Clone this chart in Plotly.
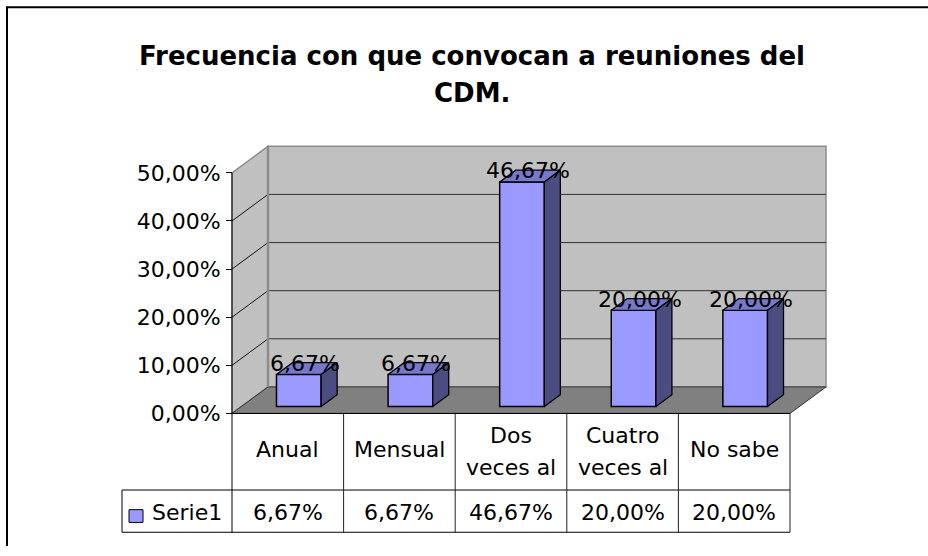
import plotly.graph_objects as go

# ---------------- data ----------------
categories = ["Anual", "Mensual", "Dos veces al", "Cuatro veces al", "No sabe"]
values = [0.0667, 0.0667, 0.4667, 0.2000, 0.2000]
series_name = "Serie1"
y_tick_values = [0.0, 0.1, 0.2, 0.3, 0.4, 0.5]
title_lines = ["Frecuencia con que convocan a reuniones del", "CDM."]

# ---------------- geometry / style ----------------
W, H = 928, 556
FONT = "DejaVu Sans"
X0, Y0 = 232.0, 421.0          # front-left-bottom corner of the plot (px)
CAT_PX = 111.6                 # px per category
VAL_PX = 490.0                 # px per 100 %
WALL_DX, WALL_DY = 36.0, 27.0  # depth of floor / walls (px)
BAR_DX, BAR_DY = 11.0, 7.0     # position of bar front face inside the floor
BAR_DEPTH_DX, BAR_DEPTH_DY = 16.0, 12.0
BAR_WIDTH = 0.40
PAD = 3.0
ROW_SEP_Y, TABLE_BOTTOM_Y, LEGEND_LEFT_X = 499.0, 542.0, 122.0
TITLE_Y = [57.0, 95.0]
FRONT_COL, TOP_COL, SIDE_COL = "#9999FF", "#7777CC", "#4C4C80"
WALL_COL, FLOOR_COL, EDGE_COL = "#C0C0C0", "#808080", "#8C8C8C"

n = len(categories)
ymax = max(y_tick_values)
xl, xr = -0.5, n - 0.5
DXu, DYu = WALL_DX / CAT_PX, WALL_DY / VAL_PX

x_range = [xl - PAD / CAT_PX, xr + DXu + PAD / CAT_PX]
y_range = [-PAD / VAL_PX, ymax + DYu + PAD / VAL_PX]


def xpx(x):
    return X0 + (x - xl) * CAT_PX


def ypx(y):
    return Y0 - y * VAL_PX


def fx(p):
    return p / W


def fy(p):
    return 1 - p / H


x_domain = [fx(xpx(x_range[0])), fx(xpx(x_range[1]))]
y_domain = [fy(ypx(y_range[0])), fy(ypx(y_range[1]))]


def fmt(v):
    return f"{v * 100:.2f}%".replace(".", ",")


def dpath(pts):
    return "M " + " L ".join(f"{x:.6f},{y:.6f}" for x, y in pts) + " Z"


shapes = []
# side wall
shapes.append(dict(type="path", xref="x", yref="y", layer="below",
                   path=dpath([(xl, 0), (xl + DXu, DYu), (xl + DXu, ymax + DYu), (xl, ymax)]),
                   fillcolor=WALL_COL, line=dict(color=EDGE_COL, width=1.5)))
# back wall
shapes.append(dict(type="rect", xref="x", yref="y", layer="below",
                   x0=xl + DXu, x1=xr + DXu, y0=DYu, y1=ymax + DYu,
                   fillcolor=WALL_COL, line=dict(color=EDGE_COL, width=1.5)))
# floor
shapes.append(dict(type="path", xref="x", yref="y", layer="below",
                   path=dpath([(xl, 0), (xr, 0), (xr + DXu, DYu), (xl + DXu, DYu)]),
                   fillcolor=FLOOR_COL, line=dict(color="#333333", width=1)))
# gridlines (side + back wall)
for v in y_tick_values[1:-1]:
    shapes.append(dict(type="line", xref="x", yref="y", layer="below",
                       x0=xl, y0=v, x1=xl + DXu, y1=v + DYu,
                       line=dict(color="#111111", width=1)))
    shapes.append(dict(type="line", xref="x", yref="y", layer="below",
                       x0=xl + DXu, y0=v + DYu, x1=xr + DXu, y1=v + DYu,
                       line=dict(color="#333333", width=1)))
# back-left corner edge
shapes.append(dict(type="line", xref="x", yref="y", layer="below",
                   x0=xl + DXu, y0=DYu, x1=xl + DXu, y1=ymax + DYu,
                   line=dict(color=EDGE_COL, width=2.5)))

# front value axis line (continues into the data table)
shapes.append(dict(type="line", xref="paper", yref="paper",
                   x0=fx(xpx(xl)), x1=fx(xpx(xl)), y0=fy(ypx(ymax)), y1=fy(TABLE_BOTTOM_Y),
                   line=dict(color="#000000", width=1)))
# data table lines
for yy, xa in [(Y0, xpx(xl)), (ROW_SEP_Y, LEGEND_LEFT_X), (TABLE_BOTTOM_Y, LEGEND_LEFT_X)]:
    shapes.append(dict(type="line", xref="paper", yref="paper",
                       x0=fx(xa), x1=fx(xpx(xr)), y0=fy(yy), y1=fy(yy),
                       line=dict(color="#000000", width=1)))
for k in range(1, n + 1):
    xx = xpx(xl + k)
    shapes.append(dict(type="line", xref="paper", yref="paper",
                       x0=fx(xx), x1=fx(xx), y0=fy(Y0), y1=fy(TABLE_BOTTOM_Y),
                       line=dict(color="#222222", width=1)))
shapes.append(dict(type="line", xref="paper", yref="paper",
                   x0=fx(LEGEND_LEFT_X), x1=fx(LEGEND_LEFT_X), y0=fy(ROW_SEP_Y), y1=fy(TABLE_BOTTOM_Y),
                   line=dict(color="#000000", width=1)))
# legend key
shapes.append(dict(type="rect", xref="paper", yref="paper",
                   x0=fx(129), x1=fx(143), y0=fy(532), y1=fy(519),
                   fillcolor=FRONT_COL, line=dict(color="#000000", width=1)))
# outer chart frame (left and top edges visible)
shapes.append(dict(type="line", xref="paper", yref="paper",
                   x0=fx(7), x1=fx(7), y0=fy(7), y1=0, line=dict(color="#000000", width=2)))
shapes.append(dict(type="line", xref="paper", yref="paper",
                   x0=fx(6), x1=1, y0=fy(7.5), y1=fy(7.5), line=dict(color="#000000", width=2)))

# ---------------- traces ----------------
bx = BAR_DX / CAT_PX
base = BAR_DY / VAL_PX
bdx, bdy = BAR_DEPTH_DX / CAT_PX, BAR_DEPTH_DY / VAL_PX
xs = [i + bx for i in range(n)]

fig = go.Figure()
fig.add_trace(go.Bar(x=xs, y=values, base=base, width=BAR_WIDTH, name=series_name,
                     marker=dict(color=FRONT_COL, line=dict(color="#000000", width=1.5)),
                     hoverinfo="skip"))

for x, v in zip(xs, values):
    L, R = x - BAR_WIDTH / 2, x + BAR_WIDTH / 2
    top = base + v
    fig.add_trace(go.Scatter(
        x=[L, R, R + bdx, L + bdx, L], y=[top, top, top + bdy, top + bdy, top],
        mode="lines", fill="toself", fillcolor=TOP_COL,
        line=dict(color="#000000", width=1.3), hoverinfo="skip"))
    fig.add_trace(go.Scatter(
        x=[R, R + bdx, R + bdx, R, R], y=[base, base + bdy, top + bdy, top, base],
        mode="lines", fill="toself", fillcolor=SIDE_COL,
        line=dict(color="#000000", width=1.3), hoverinfo="skip"))

annotations = []
# title
for line, yc in zip(title_lines, TITLE_Y):
    annotations.append(dict(text=line, x=fx(472), y=fy(yc), xref="paper", yref="paper",
                            xanchor="center", yanchor="middle", showarrow=False,
                            font=dict(family=FONT, size=26, color="#000000", weight="bold")))
# data labels
for x, v in zip(xs, values):
    annotations.append(dict(text=fmt(v), x=x, y=base + v, xref="x", yref="y",
                            xanchor="center", yanchor="middle", xshift=6, yshift=11,
                            showarrow=False, font=dict(family=FONT, size=22, color="#000000")))
# table: categories
for i, cat in enumerate(categories):
    if len(cat) > 10:
        first, rest = cat.split(" ", 1)
        parts = [(first, 443.0), (rest, 476.0)]
    else:
        parts = [(cat, 457.5)]
    for txt, yc in parts:
        annotations.append(dict(text=txt, x=fx(xpx(i)), y=fy(yc), xref="paper", yref="paper",
                                xanchor="center", yanchor="middle", showarrow=False,
                                font=dict(family=FONT, size=22, color="#000000")))
# table: values
for i, v in enumerate(values):
    annotations.append(dict(text=fmt(v), x=fx(xpx(i)), y=fy(521.5), xref="paper", yref="paper",
                            xanchor="center", yanchor="middle", showarrow=False,
                            font=dict(family=FONT, size=22, color="#000000")))
annotations.append(dict(text=series_name, x=fx(150), y=fy(522), xref="paper", yref="paper",
                        xanchor="left", yanchor="middle", showarrow=False,
                        font=dict(family=FONT, size=22, color="#000000")))

fig.update_layout(
    width=W, height=H, autosize=False,
    margin=dict(l=0, r=0, t=0, b=0, pad=0),
    paper_bgcolor="#FFFFFF", plot_bgcolor="rgba(0,0,0,0)",
    showlegend=False, separators=",.",
    xaxis=dict(range=x_range, domain=x_domain, visible=False, fixedrange=True),
    yaxis=dict(range=y_range, domain=y_domain, anchor="free", position=fx(X0),
               tickvals=y_tick_values, tickformat=".2%", ticks="outside", ticklen=6,
               tickcolor="#000000", tickwidth=1, showgrid=False, zeroline=False,
               showline=False, ticklabelstandoff=1,
               tickfont=dict(family=FONT, size=22, color="#000000"), fixedrange=True),
    shapes=shapes, annotations=annotations,
)

# remove the default page margins so the figure starts at the window's top-left corner
page_js = (
    "var s='margin:0;padding:0;overflow:hidden;';"
    "document.documentElement.style.cssText=s;document.body.style.cssText=s;"
    "var g=document.getElementById('{plot_id}');"
    "g.style.position='absolute';g.style.left='0px';g.style.top='0px';"
)

fig.write_html("out.html", config={"displayModeBar": False}, post_script=page_js)
